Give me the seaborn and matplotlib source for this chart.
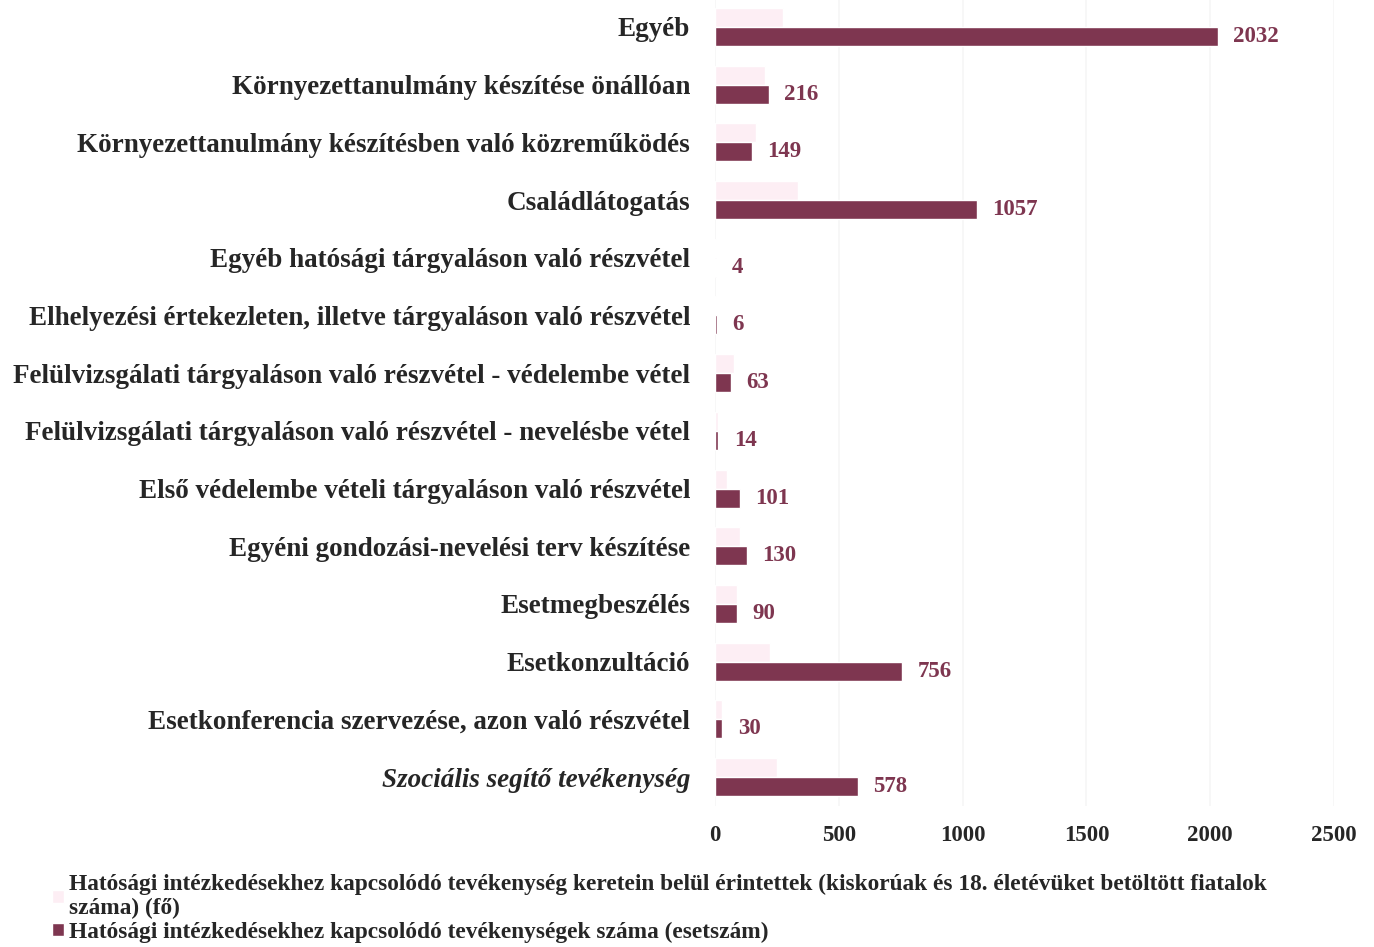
import matplotlib
matplotlib.use("Agg")
import matplotlib.pyplot as plt
import pandas as pd
import seaborn as sns

categories = [
    "Egyéb",
    "Környezettanulmány készítése önállóan",
    "Környezettanulmány készítésben való közreműködés",
    "Családlátogatás",
    "Egyéb hatósági tárgyaláson való részvétel",
    "Elhelyezési értekezleten, illetve tárgyaláson való részvétel",
    "Felülvizsgálati tárgyaláson való részvétel - védelembe vétel",
    "Felülvizsgálati tárgyaláson való részvétel - nevelésbe vétel",
    "Első védelembe vételi tárgyaláson való részvétel",
    "Egyéni gondozási-nevelési terv készítése",
    "Esetmegbeszélés",
    "Esetkonzultáció",
    "Esetkonferencia szervezése, azon való részvétel",
    "Szociális segítő tevékenység",
]
# faint series (persons affected) - barely visible in the scan, estimated
persons = [275, 200, 165, 335, 3, 5, 75, 10, 50, 100, 90, 220, 30, 250]
# activity counts
activities = [2032, 216, 149, 1057, 4, 6, 63, 14, 101, 130, 90, 756, 30, 578]

series_names = [
    "Hatósági intézkedésekhez kapcsolódó tevékenység keretein belül érintettek (kiskorúak és 18. életévüket betöltött fiatalok\nszáma) (fő)",
    "Hatósági intézkedésekhez kapcsolódó tevékenységek száma (esetszám)",
]
x_ticks = [0, 500, 1000, 1500, 2000, 2500]

df = pd.DataFrame({
    "kategoria": categories * 2,
    "ertek": persons + activities,
    "sorozat": [series_names[0]] * len(categories) + [series_names[1]] * len(categories),
})

pink = "#fdeef4"
maroon = "#7e3650"

sns.set_style("white")
plt.rcParams["font.family"] = ["Liberation Serif", "DejaVu Serif"]

fig = plt.figure(figsize=(13.74, 9.47), dpi=100)
ax = fig.add_axes([0.5204, 0.149, 0.4505, 0.853])

sns.barplot(data=df, y="kategoria", x="ertek", hue="sorozat", order=categories,
            hue_order=series_names, palette=[pink, maroon], width=0.66,
            orient="h", ax=ax, legend=True, saturation=1)

# value labels for the dark series only
ax.bar_label(ax.containers[1], labels=[str(v) for v in activities], padding=11,
             color=maroon, fontweight="bold", fontsize=16.5)

ax.set_xlim(0, 2500)
ax.set_xticks(x_ticks)
ax.set_xticklabels([str(t) for t in x_ticks], fontweight="bold", fontsize=16.5)
ax.set_xlabel("")
ax.set_ylabel("")
ax.tick_params(axis="x", length=0, pad=14)
ax.tick_params(axis="y", length=0, pad=18)
for lbl in ax.get_yticklabels():
    lbl.set_fontweight("bold")
    lbl.set_fontsize(19.5)
    if lbl.get_text() == "Szociális segítő tevékenység":
        lbl.set_fontstyle("italic")
ax.grid(axis="x", color="#f6f6f6", linewidth=1.2)
ax.set_axisbelow(True)
sns.despine(ax=ax, left=True, bottom=True)

handles, labels = ax.get_legend_handles_labels()
ax.get_legend().remove()
leg = fig.legend(handles, labels, loc="upper left", bbox_to_anchor=(0.038, 0.077),
                 frameon=False, prop={"weight": "bold", "size": 16.8},
                 handlelength=0.5, handleheight=0.5, handletextpad=0.2,
                 labelspacing=0.12, borderaxespad=0, borderpad=0)
for t in leg.get_texts():
    t.set_linespacing(1.15)

fig.savefig("out.png", dpi=100)
